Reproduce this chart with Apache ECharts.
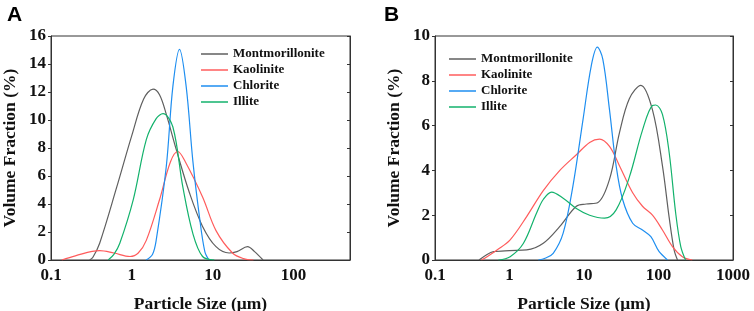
<!DOCTYPE html>
<html>
<head>
<meta charset="utf-8">
<script src="https://cdn.jsdelivr.net/npm/echarts@6/dist/echarts.min.js"></script>
<style>
  html, body { margin: 0; padding: 0; background: #fff; }
  #main { width: 754px; height: 311px; }
</style>
</head>
<body>
<div id="main"></div>
<script>
// series names, shared by both panels
const names = ['Montmorillonite', 'Kaolinite', 'Chlorite', 'Illite'];
const colors = ['#5f5f5f', '#ff5c5c', '#1e8ef0', '#13b26c'];

// panel A: [particle size (um), volume fraction (%)]
const montA = [[0.3, 0], [0.33, 0.2], [0.4, 1.2], [0.65, 5.2], [1.0, 8.9], [1.4, 11.5], [1.83, 12.2], [2.2, 11.8], [2.67, 10.4], [3.54, 7.9], [5.16, 4.8], [7.5, 2.4], [11, 0.95], [16, 0.5], [20, 0.6], [27, 0.95], [33, 0.6], [42, 0]];
const kaoA = [[0.136, 0], [0.2, 0.3], [0.4, 0.67], [0.6, 0.5], [0.95, 0.25], [1.2, 0.5], [1.51, 1.4], [2.2, 4.3], [3.0, 7.0], [3.7, 7.75], [4.6, 7.0], [7.5, 4.5], [11, 2.1], [17.6, 0.5], [24, 0.1], [32, 0]];
const chlA = [[1.5, 0], [1.8, 0.4], [2.0, 1.4], [2.67, 6.7], [3.22, 12.4], [3.89, 15.05], [4.7, 12.4], [5.68, 7.1], [6.86, 3.1], [8.0, 0.6], [9.0, 0]];
const illA = [[0.51, 0], [0.6, 0.4], [0.71, 1.2], [1.04, 4.3], [1.51, 8.6], [2.0, 10.1], [2.43, 10.45], [3.22, 9.5], [4.28, 5.2], [5.68, 1.9], [7.5, 0.25], [10.5, 0]];

// panel B
const montB = [[0.39, 0], [0.5, 0.25], [0.61, 0.37], [1.0, 0.42], [1.7, 0.45], [2.84, 0.75], [4.74, 1.5], [7.9, 2.4], [10.7, 2.5], [15.4, 2.57], [22, 3.6], [30, 5.7], [40.6, 7.2], [58, 7.8], [83, 6.7], [113, 4.2], [139, 1.9], [162, 0.45], [180, 0]];
const kaoB = [[0.42, 0], [0.5, 0.15], [0.68, 0.45], [1.02, 0.9], [1.7, 1.94], [2.84, 3.1], [4.74, 4.0], [7.9, 4.7], [11.9, 5.25], [16.2, 5.4], [22, 5.07], [30, 4.2], [45, 3.0], [61, 2.4], [83, 2.0], [113, 1.34], [154, 0.6], [209, 0.15], [284, 0]];
const chlB = [[2.44, 0], [3.0, 0.08], [3.86, 0.3], [5.25, 1.2], [7.1, 3.3], [9.7, 6.27], [12.5, 8.66], [15.1, 9.5], [17.9, 8.96], [22, 6.7], [27, 4.2], [33, 2.7], [45, 1.64], [61, 1.34], [79, 1.04], [102, 0.37], [132, 0]];
const illB = [[0.71, 0], [1.02, 0.15], [1.54, 0.75], [2.31, 2.1], [2.84, 2.7], [3.67, 3.03], [5.25, 2.76], [7.9, 2.3], [11.9, 2.0], [18.9, 1.87], [27, 2.24], [40.6, 3.7], [61, 5.8], [83, 6.9], [92, 6.92], [113, 6.5], [139, 4.8], [170, 2.1], [199, 0.6], [231, 0]];

const dataA = [montA, kaoA, chlA, illA];
const dataB = [montB, kaoB, chlB, illB];

const serif = '"Liberation Serif", "Times New Roman", serif';
const axisColor = '#333';

const chart = echarts.init(document.getElementById('main'));

function xAxisFor(grid, max) {
  return {
    type: 'log', logBase: 10, gridIndex: grid, min: 0.1, max: max,
    name: 'Particle Size (μm)', nameLocation: 'middle', nameGap: 35,
    nameTextStyle: { fontFamily: serif, fontWeight: 'bold', fontSize: 17.5, color: '#111' },
    axisLine: { lineStyle: { color: axisColor, width: 1 } },
    axisTick: { show: false },
    splitLine: { show: false },
    minorTick: { show: false },
    axisLabel: {
      margin: 7, fontFamily: serif, fontWeight: 'bold', fontSize: 17, color: '#111',
      showMaxLabel: max === 1000,
      formatter: function (v) {
        const l = Math.log10(v);
        return Math.abs(l - Math.round(l)) < 1e-6 ? String(v) : '';
      }
    }
  };
}

function yAxesFor(grid, max) {
  return [{
    type: 'value', gridIndex: grid, min: 0, max: max, interval: 2,
    name: 'Volume Fraction (%)', nameLocation: 'middle', nameGap: 32, nameRotate: 90,
    nameTextStyle: { fontFamily: serif, fontWeight: 'bold', fontSize: 17.5, color: '#111' },
    axisLine: { show: true, lineStyle: { color: axisColor, width: 1 } },
    axisTick: { show: true, length: 3, lineStyle: { color: axisColor } },
    splitLine: { show: false },
    axisLabel: { margin: 5, fontFamily: serif, fontWeight: 'bold', fontSize: 17, color: '#111' }
  }, {
    type: 'value', gridIndex: grid, position: 'right', min: 0, max: max, interval: 2,
    axisLine: { show: true, lineStyle: { color: axisColor, width: 1 } },
    axisTick: { show: true, inside: true, length: 3, lineStyle: { color: axisColor } },
    axisLabel: { show: false },
    splitLine: { show: false }
  }];
}

const series = [];
[dataA, dataB].forEach(function (set, g) {
  set.forEach(function (pts, i) {
    series.push({
      type: 'line', name: names[i], xAxisIndex: g, yAxisIndex: g * 2,
      data: pts, smooth: 0.35, showSymbol: false, symbol: 'none',
      lineStyle: { color: colors[i], width: 1.2 },
      itemStyle: { color: colors[i] },
      z: 3
    });
  });
});

function legendAt(left, top) {
  return {
    orient: 'vertical', left: left, top: top, icon: 'rect',
    itemWidth: 27, itemHeight: 1.5, itemGap: 2,
    data: names,
    textStyle: { fontFamily: serif, fontWeight: 'bold', fontSize: 13, color: '#111', lineHeight: 14, padding: [0, 0, 0, 0] },
    selectedMode: false
  };
}

chart.setOption({
  animation: false,
  title: [
    { text: 'A', left: 2, top: 0, textStyle: { fontFamily: '"Liberation Sans", Arial, sans-serif', fontWeight: 'bold', fontSize: 21, color: '#000' } },
    { text: 'B', left: 379, top: 0, textStyle: { fontFamily: '"Liberation Sans", Arial, sans-serif', fontWeight: 'bold', fontSize: 21, color: '#000' } }
  ],
  grid: [
    { left: 51, right: 404, top: 36, bottom: 51, show: true, borderColor: axisColor, borderWidth: 1, outerBoundsMode: 'none' },
    { left: 435, right: 21, top: 36, bottom: 51, show: true, borderColor: axisColor, borderWidth: 1, outerBoundsMode: 'none' }
  ],
  legend: [legendAt(196, 42), legendAt(444, 47)],
  xAxis: [xAxisFor(0, 500), xAxisFor(1, 1000)],
  yAxis: yAxesFor(0, 16).concat(yAxesFor(1, 10)),
  series: series
});
</script>
</body>
</html>
